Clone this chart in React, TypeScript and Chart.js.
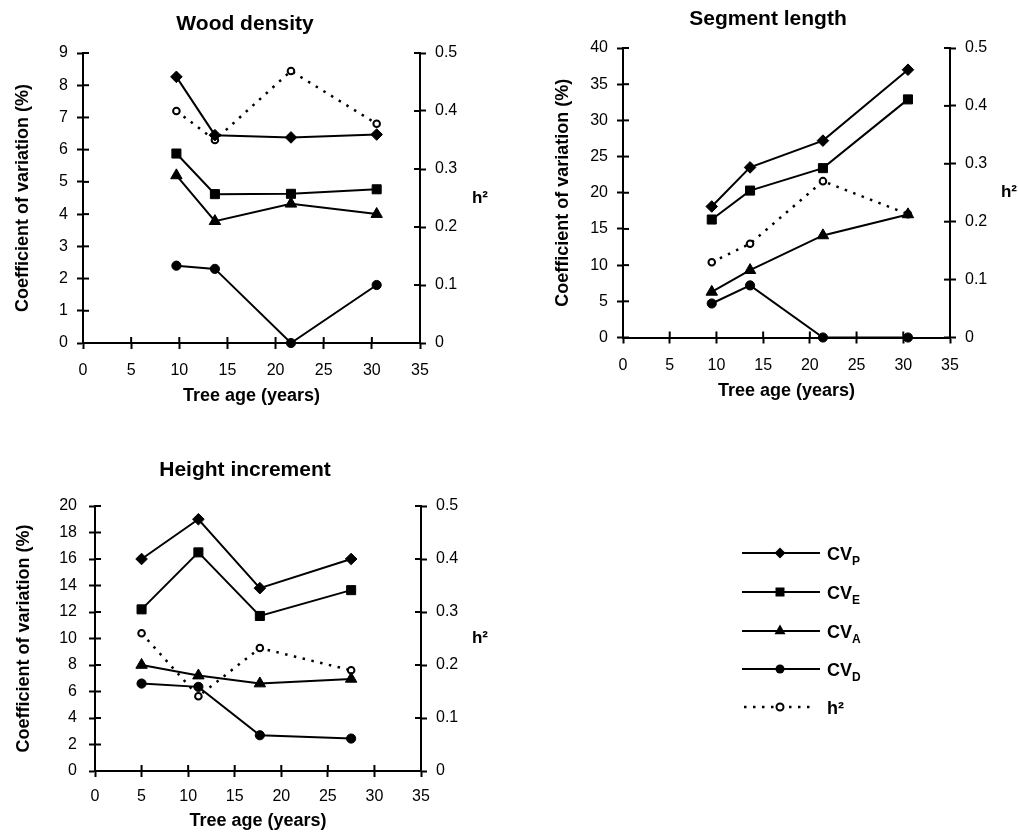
import React, { useEffect, useRef } from "react";
import { Chart, registerables } from "chart.js";

Chart.register(...registerables);

const FONT = '"Liberation Sans", Arial, Helvetica, sans-serif';

// ---------- data ----------
// Wood density
const woodAge = [9.7, 13.7, 21.6, 30.5];
const woodCVP = [8.26, 6.45, 6.38, 6.47];
const woodCVE = [5.88, 4.62, 4.63, 4.77];
const woodCVA = [5.2, 3.78, 4.32, 4.0];
const woodCVD = [2.4, 2.3, 0, 1.8];
const woodH2 = [0.4, 0.35, 0.469, 0.378];

// Segment length
const segAge = [9.5, 13.6, 21.4, 30.5];
const segCVP = [18.1, 23.5, 27.2, 37.0];
const segCVE = [16.3, 20.3, 23.4, 32.9];
const segCVA = [6.3, 9.3, 14.1, 17.0];
const segCVD = [4.7, 7.2, 0, 0];
const segH2 = [0.13, 0.162, 0.27, 0.213];

// Height increment
const hiAge = [5.0, 11.1, 17.7, 27.5];
const hiCVP = [16.0, 19.0, 13.8, 16.0];
const hiCVE = [12.2, 16.5, 11.7, 13.65];
const hiCVA = [8.0, 7.2, 6.6, 6.95];
const hiCVD = [6.6, 6.35, 2.7, 2.45];
const hiH2 = [0.26, 0.141, 0.232, 0.19];

const panelTitles = ["Wood density", "Segment length", "Height increment"];
const xTitle = "Tree age (years)";
const yTitle = "Coefficient of variation (%)";
const y1Title = "h\u00B2";
const legendSubs = ["P", "E", "A", "D"];

// ---------- plugin ----------
const decorPlugin = {
  id: "decor",
  beforeDatasetsDraw(chart: any, _a: any, opts: any) {
    const ctx = chart.ctx;
    const area = chart.chartArea;
    const len = opts.innerTick;
    ctx.save();
    ctx.strokeStyle = "#000";
    ctx.lineWidth = 2;
    const xs = chart.scales.x;
    xs.ticks.forEach((t: any) => {
      const px = xs.getPixelForValue(t.value);
      ctx.beginPath();
      ctx.moveTo(px, area.bottom);
      ctx.lineTo(px, area.bottom - len);
      ctx.stroke();
    });
    const ys = chart.scales.y;
    ys.ticks.forEach((t: any) => {
      const py = ys.getPixelForValue(t.value);
      ctx.beginPath();
      ctx.moveTo(area.left, py);
      ctx.lineTo(area.left + len, py);
      ctx.stroke();
    });
    const y1 = chart.scales.y1;
    y1.ticks.forEach((t: any) => {
      const py = y1.getPixelForValue(t.value);
      ctx.beginPath();
      ctx.moveTo(area.right, py);
      ctx.lineTo(area.right - len, py);
      ctx.stroke();
    });
    ctx.restore();
  },
  afterDraw(chart: any, _a: any, opts: any) {
    const ctx = chart.ctx;
    const area = chart.chartArea;
    ctx.save();
    ctx.fillStyle = "#000";
    ctx.textAlign = "center";
    ctx.textBaseline = "middle";
    ctx.font = `bold 21px ${FONT}`;
    ctx.fillText(opts.title, opts.titleX, opts.titleY);
    ctx.font = `bold 17px ${FONT}`;
    ctx.fillText(y1Title, opts.h2X, (area.top + area.bottom) / 2);
    ctx.restore();
  },
};

type PanelCfg = {
  left: number;
  top: number;
  w: number;
  h: number;
  padTop: number;
  yW: number;
  y1W: number;
  xH: number;
  yMax: number;
  yStep: number;
  xLabelPad: number;
  xTitlePad: number;
  yTitlePad: number;
  yLabelPad: number;
  title: string;
  titleX: number;
  titleY: number;
  h2X: number;
  age: number[];
  cvp: number[];
  cve: number[];
  cva: number[];
  cvd: number[];
  h2: number[];
};

function buildConfig(c: PanelCfg): any {
  const pts = (ys: number[]) => c.age.map((x, i) => ({ x, y: ys[i] }));
  const base = {
    borderColor: "#000",
    backgroundColor: "#000",
    borderWidth: 2,
    pointBorderColor: "#000",
    pointBackgroundColor: "#000",
    pointBorderWidth: 1,
    clip: false,
    tension: 0,
    yAxisID: "y",
  };
  const tickFont = { family: FONT, size: 16 };
  const titleFont = { family: FONT, size: 18, weight: "bold" };
  const grid = {
    display: true,
    drawOnChartArea: false,
    drawTicks: true,
    tickLength: 6,
    tickColor: "#000",
    tickWidth: 2,
    color: "#000",
  };
  const border = { display: true, color: "#000", width: 2 };
  return {
    type: "line",
    data: {
      datasets: [
        { ...base, label: "CVP", data: pts(c.cvp), pointStyle: "rectRot", pointRadius: 5.8 },
        { ...base, label: "CVE", data: pts(c.cve), pointStyle: "rect", pointRadius: 6.4 },
        { ...base, label: "CVA", data: pts(c.cva), pointStyle: "triangle", pointRadius: 6.6 },
        { ...base, label: "CVD", data: pts(c.cvd), pointStyle: "circle", pointRadius: 4.6 },
        {
          ...base,
          label: y1Title,
          data: pts(c.h2),
          yAxisID: "y1",
          pointStyle: "circle",
          pointRadius: 3.3,
          pointBackgroundColor: "#fff",
          pointBorderWidth: 2,
          borderDash: [2.5, 6.5],
          borderWidth: 2.5,
        },
      ],
    },
    options: {
      responsive: false,
      animation: false,
      events: [],
      layout: { padding: { top: c.padTop, left: 0, right: 0, bottom: 0 } },
      plugins: {
        legend: { display: false },
        tooltip: { enabled: false },
        decor: {
          innerTick: 6,
          title: c.title,
          titleX: c.titleX,
          titleY: c.titleY,
          h2X: c.h2X,
        },
      },
      scales: {
        x: {
          type: "linear",
          position: "bottom",
          min: 0,
          max: 35,
          ticks: {
            stepSize: 5,
            color: "#000",
            font: tickFont,
            padding: c.xLabelPad,
            maxRotation: 0,
            autoSkip: false,
          },
          grid,
          border,
          title: {
            display: true,
            text: xTitle,
            color: "#000",
            font: titleFont,
            padding: { top: 0, bottom: c.xTitlePad },
          },
          afterFit: (s: any) => {
            s.height = c.xH;
          },
        },
        y: {
          type: "linear",
          position: "left",
          min: 0,
          max: c.yMax,
          ticks: {
            stepSize: c.yStep,
            color: "#000",
            font: tickFont,
            padding: c.yLabelPad,
          },
          grid,
          border,
          title: {
            display: true,
            text: yTitle,
            color: "#000",
            font: titleFont,
            padding: { top: c.yTitlePad, bottom: 0 },
          },
          afterFit: (s: any) => {
            s.width = c.yW;
          },
        },
        y1: {
          type: "linear",
          position: "right",
          min: 0,
          max: 0.5,
          ticks: {
            stepSize: 0.1,
            color: "#000",
            font: tickFont,
            padding: 9,
            callback: (v: any) => String(Math.round(Number(v) * 10) / 10),
          },
          grid,
          border,
          afterFit: (s: any) => {
            s.width = c.y1W;
          },
        },
      },
    },
    plugins: [decorPlugin],
  };
}

function Panel({ cfg }: { cfg: PanelCfg }) {
  const ref = useRef<HTMLCanvasElement>(null);
  useEffect(() => {
    const chart = new Chart(ref.current as HTMLCanvasElement, buildConfig(cfg));
    return () => chart.destroy();
  }, []);
  return (
    <canvas
      ref={ref}
      width={cfg.w}
      height={cfg.h}
      style={{ position: "absolute", left: cfg.left, top: cfg.top, width: cfg.w, height: cfg.h }}
    />
  );
}

const panels: PanelCfg[] = [
  {
    left: 0, top: 0, w: 505, h: 420, padTop: 53, yW: 83, y1W: 85, xH: 77,
    yMax: 9, yStep: 1, xLabelPad: 12, xTitlePad: 13, yTitlePad: 12, yLabelPad: 9,
    title: panelTitles[0], titleX: 245, titleY: 24, h2X: 480,
    age: woodAge, cvp: woodCVP, cve: woodCVE, cva: woodCVA, cvd: woodCVD, h2: woodH2,
  },
  {
    left: 509, top: 0, w: 509, h: 420, padTop: 48, yW: 114, y1W: 68, xH: 82.5,
    yMax: 40, yStep: 5, xLabelPad: 12, xTitlePad: 18, yTitlePad: 43, yLabelPad: 9,
    title: panelTitles[1], titleX: 259, titleY: 19, h2X: 500,
    age: segAge, cvp: segCVP, cve: segCVE, cva: segCVA, cvd: segCVD, h2: segH2,
  },
  {
    left: 0, top: 430, w: 505, h: 402, padTop: 76, yW: 95, y1W: 84, xH: 61,
    yMax: 20, yStep: 2, xLabelPad: 9.5, xTitlePad: 0, yTitlePad: 13, yLabelPad: 12,
    title: panelTitles[2], titleX: 245, titleY: 40, h2X: 480,
    age: hiAge, cvp: hiCVP, cve: hiCVE, cva: hiCVA, cvd: hiCVD, h2: hiH2,
  },
];

function Legend() {
  const x0 = 742;
  const x1 = 820;
  const mx = 780;
  const ys = [553, 592, 631, 669, 707];
  const tx = 827;
  const textStyle: any = { fontFamily: FONT, fontWeight: "bold", fontSize: 18 };
  return (
    <svg
      width={1018}
      height={832}
      style={{ position: "absolute", left: 0, top: 0, pointerEvents: "none" }}
    >
      {ys.slice(0, 4).map((y, i) => (
        <g key={i}>
          <line x1={x0} y1={y} x2={x1} y2={y} stroke="#000" strokeWidth={2} />
          {i === 0 && (
            <polygon
              points={`${mx},${y - 5.5} ${mx + 5.5},${y} ${mx},${y + 5.5} ${mx - 5.5},${y}`}
              fill="#000"
            />
          )}
          {i === 1 && <rect x={mx - 4.5} y={y - 4.5} width={9} height={9} fill="#000" />}
          {i === 2 && (
            <polygon
              points={`${mx},${y - 6.4} ${mx + 5.5},${y + 3.2} ${mx - 5.5},${y + 3.2}`}
              fill="#000"
            />
          )}
          {i === 3 && <circle cx={mx} cy={y} r={4.5} fill="#000" />}
          <text x={tx} y={y + 6.5} style={textStyle} fill="#000">
            CV
            <tspan fontSize={12} dy={5}>
              {legendSubs[i]}
            </tspan>
          </text>
        </g>
      ))}
      <line
        x1={x0 + 2}
        y1={ys[4]}
        x2={x1 - 4}
        y2={ys[4]}
        stroke="#000"
        strokeWidth={2.5}
        strokeDasharray="2.5 6.5"
      />
      <circle cx={mx} cy={ys[4]} r={3.5} fill="#fff" stroke="#000" strokeWidth={2} />
      <text x={tx} y={ys[4] + 6.5} style={textStyle} fill="#000">
        {y1Title}
      </text>
    </svg>
  );
}

export default function App() {
  return (
    <div
      style={{
        position: "absolute",
        left: 0,
        top: 0,
        width: 1018,
        height: 832,
        background: "#fff",
        overflow: "hidden",
      }}
    >
      {panels.map((p, i) => (
        <Panel key={i} cfg={p} />
      ))}
      <Legend />
    </div>
  );
}
